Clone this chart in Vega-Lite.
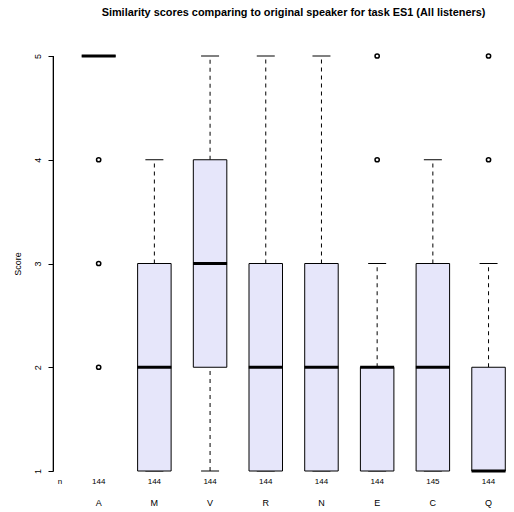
{
  "$schema": "https://vega.github.io/schema/vega-lite/v6.json",
  "width": 461,
  "height": 415,
  "autosize": {"type": "none"},
  "padding": {"left": 53, "top": 56, "right": 0, "bottom": 41},
  "background": "white",
  "title": {
    "text": "Similarity scores comparing to original speaker for task ES1 (All listeners)",
    "fontSize": 10.9,
    "fontWeight": "bold",
    "font": "Liberation Sans",
    "anchor": "middle",
    "dx": 10,
    "offset": 33,
    "color": "black"
  },
  "config": {
    "view": {"stroke": null},
    "font": "Liberation Sans",
    "scale": {"continuousPadding": 0}
  },
  "datasets": {
    "boxes": [
      {"cat": "A", "idx": 1, "lower": 5, "q1": 5, "median": 5, "q3": 5, "upper": 5, "n": 144},
      {"cat": "M", "idx": 2, "lower": 1, "q1": 1, "median": 2, "q3": 3, "upper": 4, "n": 144},
      {"cat": "V", "idx": 3, "lower": 1, "q1": 2, "median": 3, "q3": 4, "upper": 5, "n": 144},
      {"cat": "R", "idx": 4, "lower": 1, "q1": 1, "median": 2, "q3": 3, "upper": 5, "n": 144},
      {"cat": "N", "idx": 5, "lower": 1, "q1": 1, "median": 2, "q3": 3, "upper": 5, "n": 144},
      {"cat": "E", "idx": 6, "lower": 1, "q1": 1, "median": 2, "q3": 2, "upper": 3, "n": 144},
      {"cat": "C", "idx": 7, "lower": 1, "q1": 1, "median": 2, "q3": 3, "upper": 4, "n": 145},
      {"cat": "Q", "idx": 8, "lower": 1, "q1": 1, "median": 1, "q3": 2, "upper": 3, "n": 144}
    ],
    "outliers": [
      {"cat": "A", "idx": 1, "score": 4},
      {"cat": "A", "idx": 1, "score": 3},
      {"cat": "A", "idx": 1, "score": 2},
      {"cat": "E", "idx": 6, "score": 4},
      {"cat": "E", "idx": 6, "score": 5},
      {"cat": "Q", "idx": 8, "score": 4},
      {"cat": "Q", "idx": 8, "score": 5}
    ]
  },
  "layer": [
    {
      "data": {"name": "boxes"},
      "mark": {"type": "rule", "color": "black", "strokeWidth": 1, "strokeDash": [4, 4]},
      "encoding": {
        "x": {"field": "idx", "type": "quantitative", "scale": {"domain": [0.18, 8.457], "nice": false, "zero": false, "padding": 0}, "axis": null},
        "y": {
          "field": "q3",
          "type": "quantitative",
          "scale": {"domain": [1, 5], "nice": false, "zero": false},
          "axis": {
            "values": [1, 2, 3, 4, 5],
            "format": "d",
            "title": "Score",
            "orient": "left",
            "domain": true,
            "domainColor": "black",
            "domainWidth": 1,
            "grid": false,
            "ticks": true,
            "tickSize": 5,
            "tickWidth": 1,
            "tickColor": "black",
            "labelAngle": -90,
            "labelAlign": "center",
            "labelBaseline": "bottom",
            "labelPadding": 6,
            "labelFontSize": 9,
            "labelColor": "black",
            "labelFont": "Liberation Sans",
            "titleFont": "Liberation Sans",
            "titleFontSize": 9,
            "titleFontWeight": "normal",
            "titleColor": "black",
            "titlePadding": 11,
            "zindex": 1
          }
        },
        "y2": {"field": "upper"}
      }
    },
    {
      "data": {"name": "boxes"},
      "mark": {"type": "rule", "color": "black", "strokeWidth": 1, "strokeDash": [4, 4]},
      "encoding": {
        "x": {"field": "idx", "type": "quantitative"},
        "y": {"field": "lower", "type": "quantitative"},
        "y2": {"field": "q1"}
      }
    },
    {
      "data": {"name": "boxes"},
      "mark": {"type": "tick", "orient": "horizontal", "color": "black", "size": 18, "thickness": 1, "opacity": 1},
      "encoding": {
        "x": {"field": "idx", "type": "quantitative"},
        "y": {"field": "upper", "type": "quantitative"}
      }
    },
    {
      "data": {"name": "boxes"},
      "mark": {"type": "tick", "orient": "horizontal", "color": "black", "size": 18, "thickness": 1, "opacity": 1},
      "encoding": {
        "x": {"field": "idx", "type": "quantitative"},
        "y": {"field": "lower", "type": "quantitative"}
      }
    },
    {
      "data": {"name": "boxes"},
      "mark": {"type": "bar", "size": 33.5, "fill": "#E6E6FA", "stroke": "black", "strokeWidth": 1},
      "encoding": {
        "x": {"field": "idx", "type": "quantitative"},
        "y": {"field": "q1", "type": "quantitative"},
        "y2": {"field": "q3"}
      }
    },
    {
      "data": {"name": "boxes"},
      "mark": {"type": "tick", "orient": "horizontal", "color": "black", "size": 34, "thickness": 3, "opacity": 1},
      "encoding": {
        "x": {"field": "idx", "type": "quantitative"},
        "y": {"field": "median", "type": "quantitative"}
      }
    },
    {
      "data": {"name": "outliers"},
      "mark": {"type": "point", "shape": "circle", "filled": false, "color": "black", "size": 18, "strokeWidth": 1.5, "opacity": 1},
      "encoding": {
        "x": {"field": "idx", "type": "quantitative"},
        "y": {"field": "score", "type": "quantitative"}
      }
    },
    {
      "data": {"name": "boxes"},
      "mark": {"type": "text", "fontSize": 8, "color": "black", "baseline": "middle", "align": "center"},
      "encoding": {
        "x": {"field": "idx", "type": "quantitative"},
        "y": {"datum": 0.894, "type": "quantitative"},
        "text": {"field": "n"}
      }
    },
    {
      "data": {"name": "boxes"},
      "mark": {"type": "text", "fontSize": 9, "color": "black", "baseline": "middle", "align": "center"},
      "encoding": {
        "x": {"field": "idx", "type": "quantitative"},
        "y": {"datum": 0.692, "type": "quantitative"},
        "text": {"field": "cat"}
      }
    },
    {
      "data": {"name": "boxes"},
      "transform": [{"aggregate": [{"op": "count", "as": "k"}]}],
      "mark": {"type": "text", "fontSize": 8, "color": "black", "baseline": "middle", "align": "center", "text": "n"},
      "encoding": {
        "x": {"datum": 0.306, "type": "quantitative"},
        "y": {"datum": 0.894, "type": "quantitative"}
      }
    },
    {
      "data": {"name": "boxes"},
      "transform": [{"aggregate": [{"op": "min", "field": "lower", "as": "ymin"}, {"op": "max", "field": "upper", "as": "ymax"}]}],
      "mark": {"type": "rule", "color": "black", "strokeWidth": 1.2, "clip": false},
      "encoding": {
        "x": {"datum": 0.185, "type": "quantitative"},
        "y": {"field": "ymin", "type": "quantitative"},
        "y2": {"field": "ymax"}
      }
    }
  ]
}
